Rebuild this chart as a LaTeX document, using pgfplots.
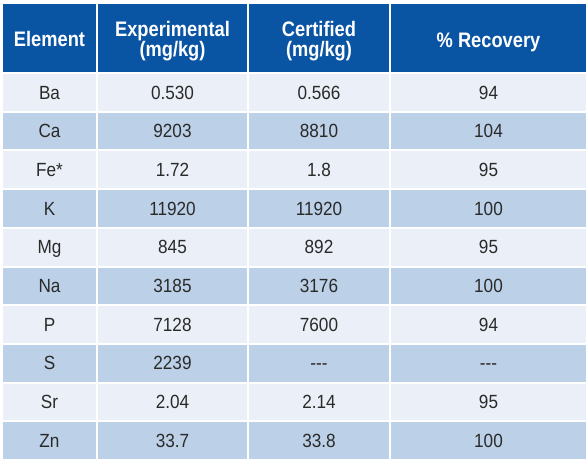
\documentclass[border=0pt]{standalone}
\usepackage{fontspec}
\setmainfont{Liberation Sans}[FakeStretch=0.9]
\newfontfamily\hdrfont{Liberation Sans}[FakeStretch=0.87]
\usepackage{pgfplots}
\usepackage{pgfplotstable}
\pgfplotsset{compat=1.18}
\definecolor{hdr}{HTML}{0A54A4}
\definecolor{rowL}{HTML}{EBF0F8}
\definecolor{rowD}{HTML}{BCD0E7}
\definecolor{txt}{HTML}{2A2A2A}

% header labels: x, baseline y, label
\pgfplotstableread[col sep=comma]{
x,y,label
49.5,45,Element
172.5,35,Experimental
172.5,55,(mg/kg)
319,35,Certified
319,55,(mg/kg)
488.5,46,\% Recovery
}\hdrtab

% body cells: x, baseline y, label
\pgfplotstableread[col sep=comma]{
x,y,label
49.5,98,Ba
172.5,98,0.530
319,98,0.566
488.5,98,94
49.5,136.7,Ca
172.5,136.7,9203
319,136.7,8810
488.5,136.7,104
49.5,175.4,Fe*
172.5,175.4,1.72
319,175.4,1.8
488.5,175.4,95
49.5,214.1,K
172.5,214.1,11920
319,214.1,11920
488.5,214.1,100
49.5,252.8,Mg
172.5,252.8,845
319,252.8,892
488.5,252.8,95
49.5,291.5,Na
172.5,291.5,3185
319,291.5,3176
488.5,291.5,100
49.5,330.2,P
172.5,330.2,7128
319,330.2,7600
488.5,330.2,94
49.5,368.9,S
172.5,368.9,2239
319,368.9,-{}-{}-
488.5,368.9,-{}-{}-
49.5,407.6,Sr
172.5,407.6,2.04
319,407.6,2.14
488.5,407.6,95
49.5,446.3,Zn
172.5,446.3,33.7
319,446.3,33.8
488.5,446.3,100
}\bodytab

\begin{document}
\begin{tikzpicture}
\begin{axis}[
  x=0.75pt, y=0.75pt, y dir=reverse,
  xmin=0, xmax=588, ymin=0, ymax=460,
  hide axis, clip=false, scale only axis,
]
\addplot[draw=none] coordinates {(0,0) (588,460)};
% header
\addplot[fill=hdr, draw=none] coordinates {(3,3) (586,3) (586,71) (3,71)} -- cycle;
% rows
\addplot[fill=rowL, draw=none] coordinates {(3,73) (586,73) (586,109.7) (3,109.7)} -- cycle;
\addplot[fill=rowD, draw=none] coordinates {(3,111.7) (586,111.7) (586,148.4) (3,148.4)} -- cycle;
\addplot[fill=rowL, draw=none] coordinates {(3,150.4) (586,150.4) (586,187.1) (3,187.1)} -- cycle;
\addplot[fill=rowD, draw=none] coordinates {(3,189.1) (586,189.1) (586,225.8) (3,225.8)} -- cycle;
\addplot[fill=rowL, draw=none] coordinates {(3,227.8) (586,227.8) (586,264.5) (3,264.5)} -- cycle;
\addplot[fill=rowD, draw=none] coordinates {(3,266.5) (586,266.5) (586,303.2) (3,303.2)} -- cycle;
\addplot[fill=rowL, draw=none] coordinates {(3,305.2) (586,305.2) (586,341.9) (3,341.9)} -- cycle;
\addplot[fill=rowD, draw=none] coordinates {(3,343.9) (586,343.9) (586,380.6) (3,380.6)} -- cycle;
\addplot[fill=rowL, draw=none] coordinates {(3,382.6) (586,382.6) (586,419.3) (3,419.3)} -- cycle;
\addplot[fill=rowD, draw=none] coordinates {(3,421.3) (586,421.3) (586,458) (3,458)} -- cycle;
% column separators
\addplot[white, line width=1.5pt] coordinates {(97,0) (97,460)};
\addplot[white, line width=1.5pt] coordinates {(248,0) (248,460)};
\addplot[white, line width=1.5pt] coordinates {(390,0) (390,460)};
% text
\addplot[only marks, mark=none, nodes near coords, point meta=explicit symbolic,
  every node near coord/.style={anchor=base, inner sep=0pt, text=white,
    font=\hdrfont\bfseries\fontsize{15.75}{18}\selectfont}]
  table[x=x, y=y, meta=label] {\hdrtab};
\addplot[only marks, mark=none, nodes near coords, point meta=explicit symbolic,
  every node near coord/.style={anchor=base, inner sep=0pt, text=txt,
    font=\fontsize{14.3}{17}\selectfont}]
  table[x=x, y=y, meta=label] {\bodytab};
\end{axis}
\end{tikzpicture}
\end{document}
